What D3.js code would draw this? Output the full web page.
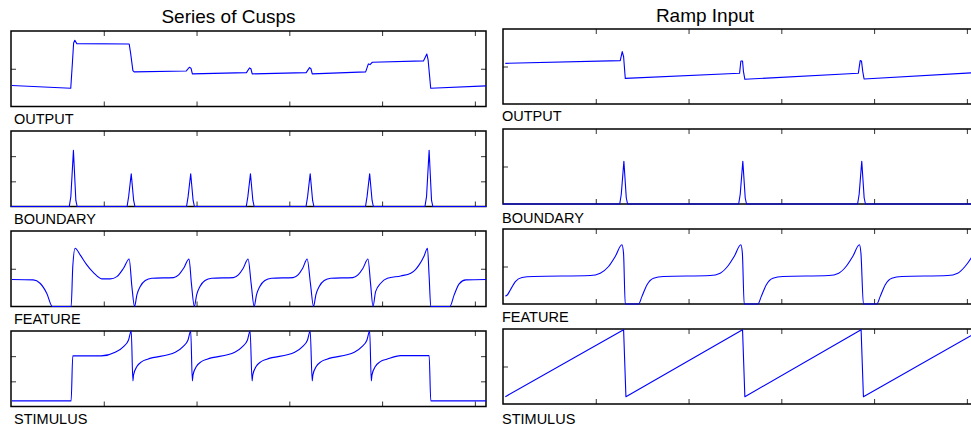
<!DOCTYPE html>
<html>
<head>
<meta charset="utf-8">
<script src="https://cdn.jsdelivr.net/npm/d3@7"></script>
<style>
  html, body { margin: 0; padding: 0; background: #fff; }
  svg { display: block; }
  text { font-family: "Liberation Sans", Arial, Helvetica, sans-serif; fill: #000; }
</style>
</head>
<body>
<svg id="chart" width="971" height="430"></svg>
<script>
// ---- data -------------------------------------------------------------
const titles = ["Series of Cusps", "Ramp Input"];
const panelNames = ["OUTPUT", "BOUNDARY", "FEATURE", "STIMULUS"];
const xDomain = [0, 512];
const xTicks = [100, 200, 300, 400, 500];
const cuspYTicks = [[0.5], [1 / 3, 2 / 3], [0.5], [1 / 3, 2 / 3]];
const rampYTicks = [[0.5], [0.5], [0.5], [0.5]];

// Series of cusps: [sample, normalised level]
const cuspOutput = [
  [1, 0.278], [64.4, 0.242], [66.3, 0.60], [67.5, 0.84], [68.8, 0.877], [70.9, 0.833],
  [127.4, 0.828], [129, 0.70], [131.4, 0.476], [132.8, 0.458],
  [189, 0.471], [192.2, 0.52], [194, 0.507], [195.5, 0.432],
  [253.8, 0.449], [257, 0.511], [258.6, 0.50], [260, 0.432],
  [318.2, 0.449], [321.8, 0.515], [323.3, 0.50], [324.7, 0.432],
  [382.3, 0.458], [385.2, 0.564], [387, 0.555], [389.5, 0.586],
  [444.6, 0.604], [448.2, 0.696], [449.6, 0.617], [452.4, 0.242], [512, 0.273]
];
const cuspBoundary = [
  [0, 0],
  [62.8, 0], [64.5, 0.13], [67.3, 0.743], [69.9, 0.08], [71.3, 0],
  [125.1, 0], [126.8, 0.13], [129.6, 0.434], [132.2, 0.08], [133.6, 0],
  [189.2, 0], [190.9, 0.13], [193.7, 0.434], [196.3, 0.08], [197.7, 0],
  [253.6, 0], [255.3, 0.13], [258.1, 0.434], [260.7, 0.08], [262.1, 0],
  [318, 0], [319.7, 0.13], [322.5, 0.434], [325.1, 0.08], [326.5, 0],
  [382.1, 0], [383.8, 0.13], [386.6, 0.434], [389.2, 0.08], [390.6, 0],
  [446.2, 0], [447.9, 0.13], [450.7, 0.743], [453.3, 0.08], [454.7, 0],
  [512, 0]
];
const cuspFeature = [
  [1, 0.357], [24, 0.352], [31.3, 0.308], [38.5, 0.176], [44.6, 0], [64.8, 0],
  [66.6, 0.529], [69.1, 0.771], [74.5, 0.683], [81.7, 0.551], [88.9, 0.449], [97.9, 0.366],
  [106.9, 0.366], [114.1, 0.396], [121.3, 0.507], [127.4, 0.630], [130.3, 0.264], [133.2, 0],
  [135.7, 0.154], [139.3, 0.264], [144.7, 0.344], [151.9, 0.374], [175.3, 0.383], [180.7, 0.419],
  [186.1, 0.507], [191.9, 0.630], [194.5, 0.30], [197.6, 0],
  [200.1, 0.154], [203.7, 0.264], [209.1, 0.344], [216.3, 0.374], [239.7, 0.383], [245.1, 0.419],
  [250.3, 0.507], [255.6, 0.630], [258.9, 0.30], [262.1, 0],
  [264.6, 0.154], [268.2, 0.264], [273.6, 0.344], [280.8, 0.374], [304, 0.383], [309.4, 0.419],
  [314.4, 0.507], [319.3, 0.630], [322.8, 0.30], [326.1, 0],
  [328.6, 0.154], [332.2, 0.264], [337.6, 0.344], [344.8, 0.374], [368.5, 0.383], [374, 0.419],
  [379.4, 0.507], [384.8, 0.630], [387.6, 0.30], [390.2, 0],
  [393, 0.198], [398.5, 0.308], [405.7, 0.374], [420.1, 0.405], [430.9, 0.441], [436, 0.49],
  [439.9, 0.551], [445.3, 0.670], [448.9, 0.771], [450.7, 0.40], [452.5, 0], [473, 0],
  [477.7, 0.154], [483.1, 0.30], [490.3, 0.352], [512, 0.357]
];
const cuspStimulus = [
  [1, 0.075], [64.8, 0.075], [66.6, 0.670], [97.2, 0.670], [112.3, 0.718], [121.3, 0.793],
  [126.7, 0.881], [129.6, 1.0], [131.4, 0.339],
  [132.1, 0.419], [135.7, 0.529], [141.1, 0.595], [147.2, 0.626], [177.1, 0.718], [185.4, 0.793],
  [190.8, 0.881], [193.7, 1.0], [195.5, 0.339],
  [196.2, 0.419], [199.8, 0.529], [205.2, 0.595], [211.3, 0.626], [241.2, 0.718], [249.5, 0.793],
  [254.9, 0.881], [257.7, 1.0], [259.9, 0.339],
  [260.6, 0.419], [264.2, 0.529], [269.6, 0.595], [275.7, 0.626], [305.8, 0.718], [314.2, 0.793],
  [319.6, 0.881], [322.5, 1.0], [324.7, 0.339],
  [325.4, 0.419], [329, 0.529], [334.4, 0.595], [340.5, 0.626], [370, 0.718], [378.3, 0.793],
  [383.7, 0.881], [386.6, 1.0], [388.4, 0.339],
  [389.1, 0.419], [392.7, 0.529], [398.1, 0.595], [405, 0.626], [420, 0.674], [450.7, 0.674],
  [452.5, 0.075], [512, 0.075]
];

// Ramp input: [sample, normalised level]
const rampOutput = [
  [2.5, 0.542], [126.4, 0.578], [128.5, 0.698], [130, 0.63], [131.8, 0.342],
  [255, 0.409], [256.4, 0.573], [258.2, 0.573], [259.2, 0.431], [260.7, 0.329],
  [383, 0.409], [385, 0.578], [386.4, 0.573], [387.8, 0.431], [389.2, 0.333],
  [512, 0.42]
];
const rampBoundary = [
  [0, 0],
  [125.8, 0], [127.5, 0.13], [130.3, 0.569], [132.9, 0.08], [134.3, 0],
  [254, 0], [255.7, 0.13], [258.5, 0.569], [261.1, 0.08], [262.5, 0],
  [382.2, 0], [383.9, 0.13], [386.7, 0.569], [389.3, 0.08], [390.7, 0],
  [512, 0]
];
const rampFeature = [
  [2.5, 0.107], [4.3, 0.116], [7.9, 0.1875], [13.3, 0.299], [20.5, 0.353], [33, 0.366],
  [94, 0.379], [104.8, 0.411], [113.8, 0.5], [121, 0.634], [128.2, 0.79], [129.9, 0.68],
  [131.8, 0], [146.1, 0],
  [149.7, 0.098], [155.1, 0.254], [162.3, 0.344], [173.1, 0.366], [223.3, 0.379], [234.1, 0.411],
  [242, 0.5], [249.2, 0.634], [256.4, 0.79], [258, 0.68], [260, 0], [274.7, 0],
  [278.3, 0.098], [283.7, 0.254], [290.9, 0.344], [301.7, 0.366], [351.1, 0.379], [361.9, 0.411],
  [369.8, 0.5], [377, 0.634], [384.2, 0.79], [385.8, 0.68], [388.5, 0], [402.9, 0],
  [406.5, 0.098], [411.9, 0.254], [419.1, 0.344], [429.9, 0.366], [479.3, 0.379], [490.1, 0.411],
  [498, 0.5], [505, 0.62], [512, 0.79]
];
const rampStimulus = [
  [2.5, 0.098], [130, 0.991], [132.5, 0.098], [258.2, 0.991], [260.7, 0.098],
  [386, 0.991], [388.5, 0.098], [512, 0.963]
];

// ---- layout -----------------------------------------------------------
const columns = [
  {
    title: titles[0], titleX: 228.5, titleY: 22.5,
    x0: 11, width: 475, tops: [31, 131, 231, 331], height: 75.5,
    labelX: 14, labelY: [124, 223.5, 324, 423.5],
    series: [cuspOutput, cuspBoundary, cuspFeature, cuspStimulus],
    curves: [d3.curveLinear, d3.curveLinear, d3.curveMonotoneX, d3.curveMonotoneX],
    yTicks: cuspYTicks, rightAxis: true
  },
  {
    title: titles[1], titleX: 705, titleY: 22,
    x0: 503, width: 475, tops: [29, 129, 229, 329], height: 75,
    labelX: 502, labelY: [120.5, 222.5, 321.5, 424],
    series: [rampOutput, rampBoundary, rampFeature, rampStimulus],
    curves: [d3.curveLinear, d3.curveLinear, d3.curveMonotoneX, d3.curveLinear],
    yTicks: rampYTicks, rightAxis: true
  }
];

const svg = d3.select("#chart");
svg.append("rect").attr("width", 971).attr("height", 430).attr("fill", "#fff");
const defs = svg.append("defs");

columns.forEach((col, ci) => {
  svg.append("text")
    .attr("x", col.titleX).attr("y", col.titleY)
    .attr("text-anchor", "middle")
    .style("font-size", "19px")
    .text(col.title);

  const x = d3.scaleLinear().domain(xDomain).range([col.x0, col.x0 + col.width]);

  col.series.forEach((data, pi) => {
    const top = col.tops[pi];
    const bottom = top + col.height;
    const y = d3.scaleLinear().domain([0, 1]).range([bottom, top]);
    const g = svg.append("g");

    const clipId = `clip-${ci}-${pi}`;
    defs.append("clipPath").attr("id", clipId)
      .append("rect")
      .attr("x", col.x0 - 1).attr("y", top - 1)
      .attr("width", col.width + 2).attr("height", col.height + 2);

    // inward ticks on all four sides
    const axes = [
      [d3.axisBottom(x).tickValues(xTicks), `translate(0,${bottom})`],
      [d3.axisTop(x).tickValues(xTicks), `translate(0,${top})`],
      [d3.axisLeft(y).tickValues(col.yTicks[pi]), `translate(${col.x0},0)`],
      [d3.axisRight(y).tickValues(col.yTicks[pi]), `translate(${col.x0 + col.width},0)`]
    ];
    axes.forEach(([axis, tr]) => {
      const a = g.append("g").attr("transform", tr)
        .call(axis.tickSize(-5).tickSizeOuter(0).tickFormat(""));
      a.select(".domain").remove();
      a.selectAll(".tick line").attr("stroke", "#333").attr("stroke-width", 1);
    });

    g.append("rect")
      .attr("x", col.x0).attr("y", top)
      .attr("width", col.width).attr("height", col.height)
      .attr("fill", "none").attr("stroke", "#000").attr("stroke-width", 1.5);

    const line = d3.line()
      .x(d => x(d[0]))
      .y(d => y(d[1]))
      .curve(col.curves[pi]);

    g.append("path")
      .datum(data)
      .attr("clip-path", `url(#${clipId})`)
      .attr("d", line)
      .attr("fill", "none")
      .attr("stroke", "#0000ff")
      .attr("stroke-width", 1.1)
      .attr("stroke-linejoin", "round");

    svg.append("text")
      .attr("x", col.labelX).attr("y", col.labelY[pi])
      .style("font-size", "14.5px")
      .text(panelNames[pi]);
  });
});
</script>
</body>
</html>
